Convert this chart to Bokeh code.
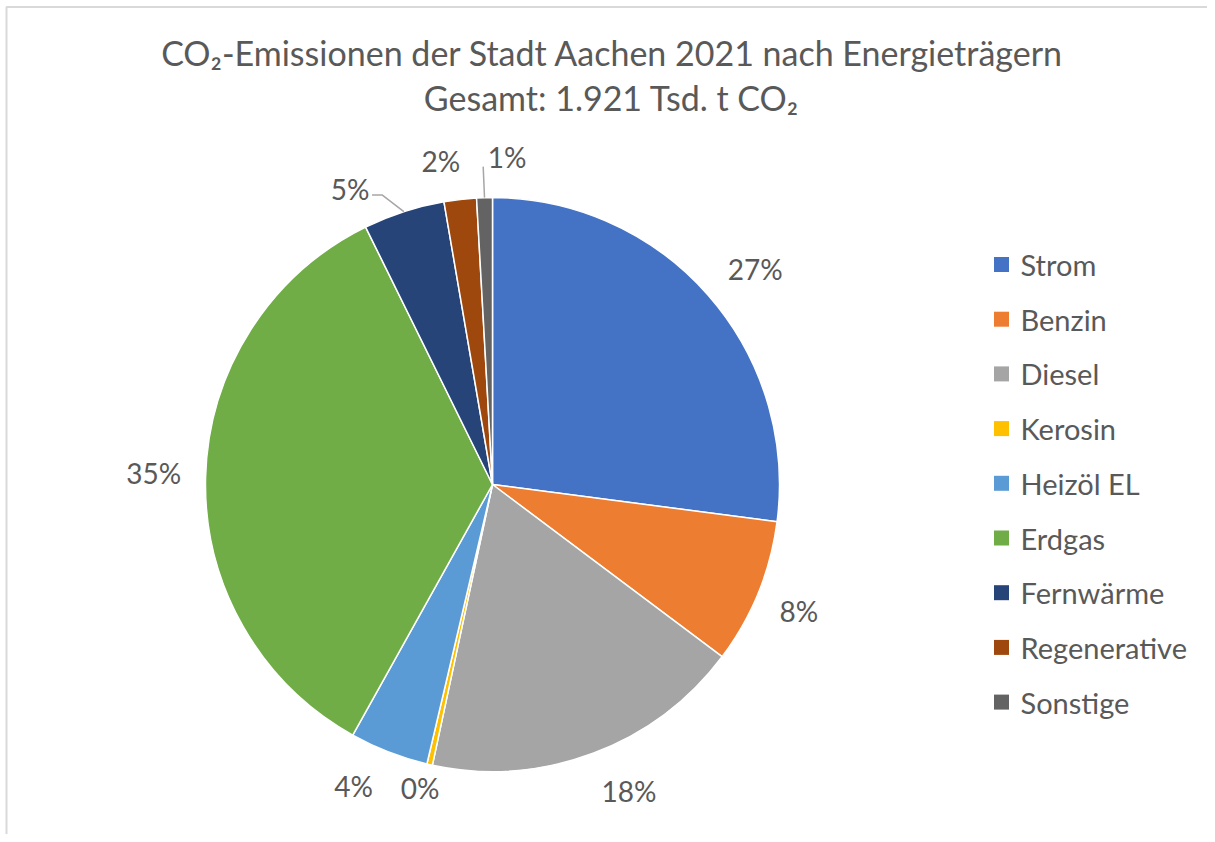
import math
from bokeh.plotting import figure
from bokeh.models import Range1d, ColumnDataSource
from bokeh.embed import file_html
from bokeh.resources import INLINE
from bokeh.core.properties import value

# ---------------- data ----------------
categories = ["Strom", "Benzin", "Diesel", "Kerosin", "Heizöl EL",
              "Erdgas", "Fernwärme", "Regenerative", "Sonstige"]
emissions = [520, 157, 348, 6, 85, 665, 88, 35, 17]   # Tsd. t CO2
colors = ["#4472C4", "#ED7D31", "#A5A5A5", "#FFC000", "#5B9BD5",
          "#70AD47", "#264478", "#9E480E", "#636363"]
title_line1 = "CO₂-Emissionen der Stadt Aachen 2021 nach Energieträgern"
title_line2 = "Gesamt: 1.921 Tsd. t CO₂"

# ---------------- layout ----------------
W, H = 1207, 834
FONT = "Lato"
TXT = "#595959"

def fx(px):
    return px

def fy(py):
    return H - py

CX, CY = fx(492), fy(484)
R = 287
LABEL_R = 335
# label nudges (x, y in screen pixels, y downwards)
nudges = [(11, 5), (-4, 0), (19, -7), (1, -23), (-18, -11),
          (-4, -3), (-39, 23), (-14, 9), (24, 7)]

p = figure(width=W, height=H, x_range=Range1d(0, W), y_range=Range1d(0, H),
           output_backend="svg", toolbar_location=None, min_border=0)
p.axis.visible = False
p.grid.visible = False
p.outline_line_color = None
p.background_fill_color = "white"

total = sum(emissions)
fr = [v / total for v in emissions]
starts, ends, mids = [], [], []
acc = 0.0
for f in fr:
    s = acc
    e = acc + f
    acc = e
    starts.append(math.pi / 2 - 2 * math.pi * e)
    ends.append(math.pi / 2 - 2 * math.pi * s)
    mids.append(math.pi / 2 - 2 * math.pi * (s + e) / 2)

src = ColumnDataSource(dict(start=starts, end=ends, color=colors, cat=categories))
p.wedge(x=CX, y=CY, radius=R, start_angle="start", end_angle="end",
        direction="anticlock", fill_color="color", line_color="white",
        line_width=1.5, source=src)

# percentage labels
lx, ly, lt = [], [], []
for m, f, (nx, ny) in zip(mids, fr, nudges):
    lx.append(CX + LABEL_R * math.cos(m) + nx)
    ly.append(CY + LABEL_R * math.sin(m) - ny)
    lt.append(f"{round(f * 100)}%")
p.text(x=lx, y=ly, text=lt, text_font=value(FONT), text_font_size="28px",
       text_color=TXT, text_align="center", text_baseline="middle")

# leader lines for Fernwärme (6) and Sonstige (8)
lead = "#A6A6A6"
i = 6
rim = (CX + R * math.cos(mids[i]), CY + R * math.sin(mids[i]))
p.line(x=[lx[i] + 22, lx[i] + 32, rim[0]], y=[ly[i] - 6, ly[i] - 6, rim[1]],
       line_color=lead, line_width=1.5)
i = 8
rim = (CX + R * math.cos(mids[i]), CY + R * math.sin(mids[i]))
p.line(x=[lx[i] - 24, rim[0]], y=[ly[i] - 10, rim[1]],
       line_color=lead, line_width=1.5)

# legend
leg_y = [fy(264 + k * 54.7) for k in range(len(categories))]
p.scatter(x=[fx(1001)] * len(categories), y=leg_y, marker="square", size=15,
          fill_color=colors, line_color=None)
p.text(x=[fx(1020)] * len(categories), y=leg_y, text=categories,
       text_font=value(FONT), text_font_size="29px", text_color=TXT,
       text_align="left", text_baseline="middle")

# title
p.text(x=[fx(612)], y=[fy(52)], text=[title_line1], text_font=value(FONT),
       text_font_size="34px", text_color=TXT, text_align="center",
       text_baseline="alphabetic")
p.text(x=[fx(611)], y=[fy(97)], text=[title_line2], text_font=value(FONT),
       text_font_size="34px", text_color=TXT, text_align="center",
       text_baseline="alphabetic")

# chart border (top and left edges)
p.line(x=[fx(6), fx(6), W], y=[0, fy(6.5), fy(6.5)], line_color="#D9D9D9", line_width=2)

open("out.html", "w").write(file_html(p, INLINE))
